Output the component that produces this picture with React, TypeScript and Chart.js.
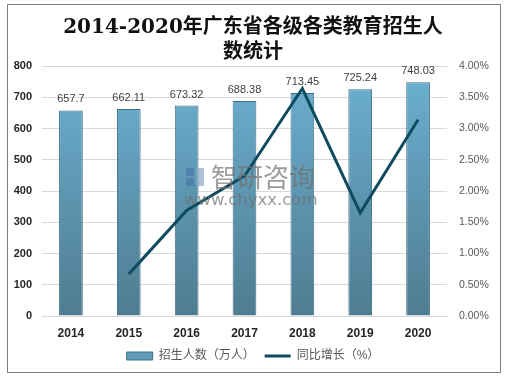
import React, { useEffect, useRef } from 'react';
import { Chart, registerables } from 'chart.js';

Chart.register(...registerables);

const categories = ['2014', '2015', '2016', '2017', '2018', '2019', '2020'];
const enrollment = [657.7, 662.11, 673.32, 688.38, 713.45, 725.24, 748.03];
const growth = [null, 0.67, 1.69, 2.24, 3.64, 1.65, 3.14];
const titleLines = ['2014-2020年广东省各级各类教育招生人', '数统计'];
const seriesNames = ['招生人数（万人）', '同比增长（%）'];
const watermarkName = '智研咨询';
const watermarkUrl = 'www.chyxx.com';

const LINE_COLOR = '#0f4b5f';
const BAR_BORDER = '#3f6f86';
const SANS = "'Liberation Sans', 'Noto Sans CJK SC', sans-serif";

export default function App() {
  const ref = useRef<HTMLCanvasElement>(null);

  useEffect(() => {
    const canvas = ref.current!;

    const labelPlugin = {
      id: 'barLabels',
      afterDatasetDraw(chart: any, args: any) {
        if (args.index !== 0) return;
        const ctx = chart.ctx;
        const meta = chart.getDatasetMeta(0);
        ctx.save();
        ctx.font = `11px ${SANS}`;
        ctx.fillStyle = '#404040';
        ctx.textAlign = 'center';
        ctx.textBaseline = 'alphabetic';
        meta.data.forEach((el: any, i: number) => {
          ctx.fillText(String(enrollment[i]), el.x, el.y - 8);
        });
        ctx.restore();
      },
    };

    const watermarkPlugin = {
      id: 'watermark',
      afterDraw(chart: any) {
        const ctx = chart.ctx;
        ctx.save();
        ctx.globalAlpha = 0.7;
        ctx.fillStyle = '#4a78a8';
        ctx.fillRect(186, 168, 8, 8);
        ctx.fillRect(186, 178, 8, 8);
        ctx.fillStyle = '#8aa6c4';
        ctx.fillRect(196, 168, 8, 18);
        ctx.fillStyle = '#707070';
        ctx.textBaseline = 'middle';
        ctx.textAlign = 'left';
        ctx.font = "26px 'Noto Sans CJK SC', sans-serif";
        ctx.fillText(watermarkName, 211, 177);
        ctx.font = "16.5px 'DejaVu Sans', sans-serif";
        ctx.fillText(watermarkUrl, 184, 201);
        ctx.restore();
      },
    };

    const chart = new Chart(canvas, {
      type: 'bar',
      data: {
        labels: categories,
        datasets: [
          {
            type: 'bar',
            label: seriesNames[0],
            data: enrollment,
            yAxisID: 'y',
            order: 2,
            backgroundColor: (c: any) => {
              const area = c.chart.chartArea;
              if (!area) return '#5e9cba';
              const g = c.chart.ctx.createLinearGradient(0, area.top, 0, area.bottom);
              g.addColorStop(0, '#6cb1d3');
              g.addColorStop(1, '#4f7c90');
              return g;
            },
            borderColor: BAR_BORDER,
            borderWidth: 1,
            barPercentage: 0.41,
            categoryPercentage: 1,
          } as any,
          {
            type: 'line',
            label: seriesNames[1],
            data: growth,
            yAxisID: 'y1',
            order: 1,
            borderColor: LINE_COLOR,
            backgroundColor: LINE_COLOR,
            borderWidth: 3,
            pointRadius: 0,
            tension: 0,
          } as any,
        ],
      },
      options: {
        responsive: false,
        animation: false,
        layout: { padding: { top: 15, left: 0, right: 0, bottom: 6 } },
        plugins: {
          title: {
            display: true,
            text: titleLines,
            color: '#111111',
            font: { family: "'DejaVu Serif', 'Noto Sans CJK SC', serif", size: 20, weight: 'bold', lineHeight: 1.275 },
            padding: { top: 0, bottom: 0 },
          },
          legend: {
            display: true,
            position: 'bottom',
            labels: {
              usePointStyle: true,
              pointStyleWidth: 26,
              boxHeight: 8,
              padding: 10,
              color: '#595959',
              font: { family: SANS, size: 12 },
              generateLabels: () => [
                {
                  text: seriesNames[0],
                  fillStyle: '#5e9cba',
                  strokeStyle: BAR_BORDER,
                  lineWidth: 1,
                  pointStyle: 'rect',
                  hidden: false,
                  datasetIndex: 0,
                  fontColor: '#595959',
                },
                {
                  text: seriesNames[1],
                  fillStyle: LINE_COLOR,
                  strokeStyle: LINE_COLOR,
                  lineWidth: 3,
                  pointStyle: 'line',
                  hidden: false,
                  datasetIndex: 1,
                  fontColor: '#595959',
                },
              ] as any,
            },
          },
          tooltip: { enabled: false },
        },
        scales: {
          x: {
            grid: { display: false, drawTicks: false },
            border: { display: true, color: '#d9d9d9' },
            ticks: {
              color: '#262626',
              padding: 10,
              font: { family: SANS, size: 12, weight: 'bold' },
            },
            afterFit: (s: any) => {
              s.height = 24;
            },
          },
          y: {
            position: 'left',
            min: 0,
            max: 800,
            grid: { color: '#d9d9d9', drawTicks: false },
            border: { display: false },
            ticks: {
              stepSize: 100,
              color: '#262626',
              padding: 10,
              font: { family: SANS, size: 11, weight: 'bold' },
            },
            afterFit: (s: any) => {
              s.width = 42;
            },
          },
          y1: {
            position: 'right',
            min: 0,
            max: 4,
            grid: { display: false, drawTicks: false },
            border: { display: false },
            ticks: {
              stepSize: 0.5,
              color: '#595959',
              padding: 12,
              font: { family: SANS, size: 10.5 },
              callback: (v: any) => Number(v).toFixed(2) + '%',
            },
            afterFit: (s: any) => {
              s.width = 59;
            },
          },
        },
      },
      plugins: [labelPlugin, watermarkPlugin],
    } as any);

    return () => chart.destroy();
  }, []);

  return (
    <div style={{ position: 'fixed', left: 0, top: 0, width: 506, height: 378, background: '#ffffff' }}>
      <canvas ref={ref} width={506} height={378} style={{ position: 'absolute', left: 0, top: 0, width: 506, height: 378 }} />
      <div
        style={{
          position: 'absolute',
          left: 7,
          top: 4,
          width: 494,
          height: 369,
          border: '1px solid #808080',
          boxSizing: 'border-box',
          pointerEvents: 'none',
        }}
      />
    </div>
  );
}
